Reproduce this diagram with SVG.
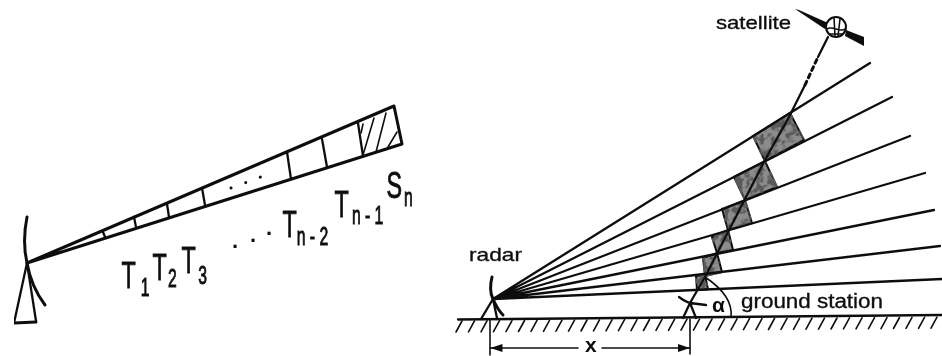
<svg xmlns="http://www.w3.org/2000/svg" width="942" height="356" viewBox="0 0 942 356">
<style>
text{font-family:"Liberation Sans",Arial,sans-serif;fill:#111}
.l{fill:#111;font-size:37px;stroke:#111;stroke-width:.9}
.sub{font-size:25px}
.ln{fill:none;stroke:#111;stroke-linecap:round;stroke-linejoin:round}
.w1{stroke-width:1.6}.w2{stroke-width:2.3}.w3{stroke-width:3}
.box{fill:#8c8c8c;stroke:#111;stroke-width:2;filter:url(#tex)}
.lab{font-size:19px;stroke:#111;stroke-width:.35}
</style>
<defs>
<filter id="soft" x="0" y="0" width="100%" height="100%"><feGaussianBlur stdDeviation="0.45"/></filter>
<filter id="tex" x="-10%" y="-10%" width="120%" height="120%">
<feTurbulence type="fractalNoise" baseFrequency="0.14" numOctaves="2" seed="4" result="n"/>
<feColorMatrix in="n" type="matrix" values="0 0 0 0 0.1 0 0 0 0 0.1 0 0 0 0 0.1 6 0 0 0 -2.6" result="d"/>
<feComposite in="d" in2="SourceAlpha" operator="in" result="c"/>
<feMerge><feMergeNode in="SourceGraphic"/><feMergeNode in="c"/></feMerge>
</filter>
<marker id="ah" viewBox="0 0 12 8" refX="12" refY="4" markerWidth="12" markerHeight="8" markerUnits="userSpaceOnUse" orient="auto"><path d="M0 0L12 4L0 8Z" fill="#111"/></marker>
</defs>
<g filter="url(#soft)">
<g id="left-antenna">
<path class="ln w3" d="M27 217C24 232 24 250 27 263C30 280 36 293 45 305"/>
<path class="ln w2" d="M27 263L14 323M27 263L36 321"/>
<path class="ln w3" d="M14 323L36 322"/>
</g>
<g id="range-beam">
<path class="ln w3" d="M27 263L394 106L402 144L27 263"/>
<path class="ln w2" d="M103 232L105 237M134 217L136 227M167 204L169 217M202 188L205 205M287 152L291 179M322 139L327 167M358 123L363 156"/>
<path class="ln w1" d="M361 133L363 124M363 155L374 118M376 152L386 113M388 147L397 132"/>
<path class="ln w3" stroke-dasharray="0.1 15.5" d="M231 188L262 176.500"/>
</g>
<g id="left-labels">
<text class="l" transform="translate(121.500,288) scale(.63,1)">T<tspan class="sub" dx="8" dy="8">1</tspan></text>
<text class="l" transform="translate(152.500,280) scale(.63,1)">T<tspan class="sub" dx="2" dy="7">2</tspan></text>
<text class="l" transform="translate(181.500,273) scale(.63,1)">T<tspan class="sub" dx="4" dy="11">3</tspan></text>
<text x="232 250 266" y="248 242 235" style="font-size:22px;font-weight:bold">...</text>
<text class="l" transform="translate(282.500,237) scale(.63,1)">T<tspan class="sub" dx="0" dy="8" textLength="50">n-2</tspan></text>
<text class="l" transform="translate(334.500,217) scale(.63,1)">T<tspan class="sub" dx="5" dy="7" textLength="50">n-1</tspan></text>
<text class="l" transform="translate(386.500,198) scale(.63,1)">S<tspan class="sub" dx="3" dy="8">n</tspan></text>
</g>
<g id="ground">
<path class="ln w2" d="M458 319.500L942 315"/>
<path class="ln w1" d="M456 332l6-11m6.500 10.900l6-11m6.500 10.900l6-11m6.500 10.900l6-11m6.500 10.900l6-11m6.500 10.900l6-11m6.500 10.900l6-11m6.500 10.900l6-11m6.500 10.900l6-11m6.500 10.900l6-11m6.500 10.900l6-11m6.500 10.900l6-11m6.500 10.900l6-11m6.500 10.900l6-11m6.500 10.900l6-11m6.500 10.900l6-11m6.500 10.900l6-11m6.500 10.900l6-11m6.500 10.900l6-11m6.500 10.900l6-11m6.500 10.900l6-11m6.500 10.900l6-11m6.500 10.900l6-11m6.500 10.900l6-11m6.500 10.900l6-11m6.500 10.900l6-11m6.500 10.900l6-11m6.500 10.900l6-11m6.500 10.900l6-11m6.500 10.900l6-11m6.500 10.900l6-11m6.500 10.900l6-11m6.500 10.900l6-11m6.500 10.900l6-11m6.500 10.900l6-11m6.500 10.900l6-11m6.500 10.900l6-11m6.500 10.900l6-11m6.500 10.900l6-11"/>
</g>
<g id="radar-cells">
<path class="box" d="M753 136L790 113L804 140L765 161Z"/>
<path class="box" d="M734 177L765 161L777 187L745 200Z"/>
<path class="box" d="M722 209L745 200L752 223L728 230Z"/>
<path class="box" d="M712 237L728 230L733 250L717 253Z"/>
<path class="box" d="M703 258L717 253L722 272L705 276Z"/>
<path class="box" d="M696 276L705 275L708 289L697 290Z"/>
</g>
<g id="connectors">
<path class="ln w2" d="M493 299L870 63M493 299L892 97M493 299L910 136M493 299L925 173M493 299L934 210M493 299L940 246M493 299L942 279"/>
<path class="ln w2" d="M690 303L705 277L765 160L790 115L805 85"/>
<path class="ln w3" stroke-dasharray="4 4" d="M805 85L818 57"/>
<path class="ln w2" d="M818 57L828 37"/>
<path class="ln w1" d="M705 277C720 287 733 300 731 317"/>
<path class="ln w1" d="M490 319L490 355M690 319L690 354"/>
<path class="ln w1" marker-end="url(#ah)" d="M578 348L490.500 348"/>
<path class="ln w1" marker-end="url(#ah)" d="M602 348L690 348"/>
</g>
<g id="radar">
<path class="ln w3" d="M492 277C490 285 490 293 493 299C496 306 499 311 503 315"/>
<path class="ln w2" d="M493 299L481 319M493 299L497 318"/>
<text class="lab" x="469" y="261" textLength="53" lengthAdjust="spacingAndGlyphs">radar</text>
</g>
<g id="ground-station">
<path class="ln w2" d="M679 297C683 300 686 302 690 303L706 305M690 303L683 318M690 303L696 318"/>
<text x="712" y="312" style="font-size:21px;font-weight:bold">α</text>
<text class="lab" x="741" y="308" style="font-size:20px" textLength="142" lengthAdjust="spacingAndGlyphs">ground station</text>
</g>
<g id="satellite">
<path fill="#111" d="M795 9L799 10L828 23L825 29Z"/>
<path fill="#111" d="M846 30L864 37L864 46L845 36Z"/>
<circle cx="836" cy="27" r="10" fill="#fff" stroke="#111" stroke-width="2"/>
<path class="ln w1" d="M827 29C832 25 840 33 845 29M829 34L843 34M834 18L835 36M840 19L838 36"/>
<text class="lab" x="716" y="29" textLength="75" lengthAdjust="spacingAndGlyphs">satellite</text>
</g>
<g id="distance-label">
<text x="585" y="351.500" style="font-size:21px;font-weight:bold">x</text>
</g>
</g>
</svg>
